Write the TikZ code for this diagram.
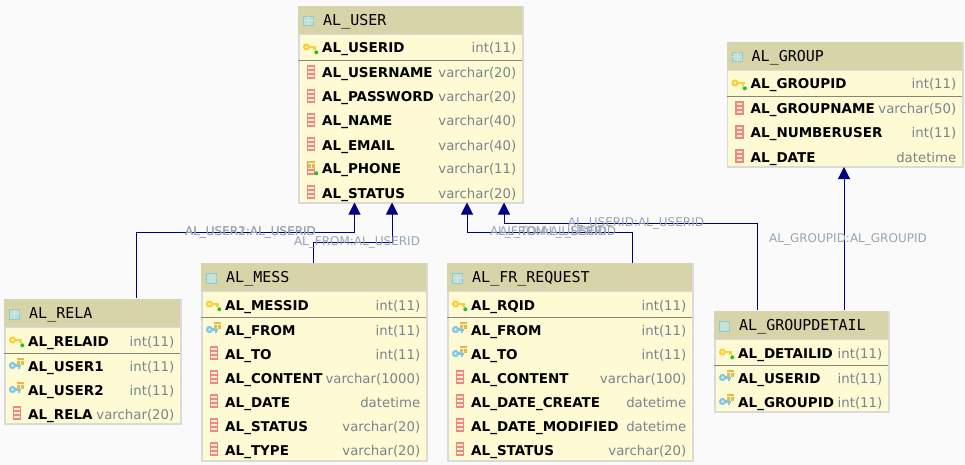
\documentclass[tikz,border=0pt]{standalone}
\usepackage{fontspec}
\setmainfont{DejaVu Sans}
\newfontfamily\titlefont{DejaVu Sans Mono}
\usetikzlibrary{arrows.meta}

\definecolor{pagebg}{HTML}{FAFAFB}
\definecolor{headfill}{HTML}{D7D4A9}
\definecolor{bodyfill}{HTML}{FEFAD3}
\definecolor{boxedge}{HTML}{DADADA}
\definecolor{sepline}{HTML}{85857A}
\definecolor{typegray}{HTML}{76858F}
\definecolor{labelgray}{HTML}{96A5B3}
\definecolor{linkblue}{HTML}{000080}
\definecolor{keyyellow}{HTML}{F8D03C}
\definecolor{keyblue}{HTML}{7CC6F0}
\definecolor{fkyellow}{HTML}{E3BC4A}
\definecolor{colred}{HTML}{EC8A80}
\definecolor{colpink}{HTML}{FDEBD4}
\definecolor{dotgreen}{HTML}{22C322}
\definecolor{tealicon}{HTML}{8CCBD0}

\tikzset{
  tablebox/.style={draw=boxedge,line width=1.6pt,fill=bodyfill,anchor=north west,inner sep=0pt},
  titlebar/.style={fill=headfill,anchor=north west,inner sep=0pt,minimum height=27.5pt},
  tabletitle/.style={anchor=base west,inner sep=0pt,font=\titlefont\fontsize{15}{15}\selectfont},
  colname/.style={anchor=base west,inner sep=0pt,font=\bfseries\fontsize{13.5}{13.5}\selectfont},
  coltype/.style={anchor=base east,inner sep=0pt,text=typegray,font=\fontsize{13.3}{13.3}\selectfont},
  fklabel/.style={inner sep=0pt,text=labelgray,font=\fontsize{12}{12}\selectfont},
  fklink/.style={draw=linkblue,line width=1pt,-{Triangle[width=12pt,length=12pt]}},
}

% icons, drawn around the origin
\newcommand{\iconkey}{%
  \draw[keyyellow,line width=2.2pt] (-3.5,-1) circle (2.4);
  \draw[keyyellow,line width=2.4pt] (-1,-1) -- (6,-1) (4.5,-1) -- (4.5,2);
  \fill[dotgreen] (6.3,4.3) circle (2);
}
\newcommand{\iconfk}{%
  \draw[keyblue,line width=2.2pt] (-3.5,-0.5) circle (2.4);
  \draw[keyblue,line width=2.4pt] (-1,-0.5) -- (4.5,-0.5) (3,-0.5) -- (3,3);
  \fill[fkyellow] (1,-8) rectangle (8,-1);
  \draw[white!80!fkyellow,line width=.5pt] (1,-5.5) -- (8,-5.5) (4.5,-5.5) -- (4.5,-1);
}
\newcommand{\iconcol}{%
  \draw[colred,fill=colpink,line width=1.4pt] (-2.5,-7) rectangle (4.5,5);
  \draw[colred,line width=1.2pt] (-2.5,-3) -- (4.5,-3) (-2.5,1) -- (4.5,1);
}
\newcommand{\iconix}{%
  \iconcol
  \fill[fkyellow] (-2,-8) rectangle (5,-1);
  \draw[white!80!fkyellow,line width=.5pt] (-2,-5.5) -- (5,-5.5) (1.5,-5.5) -- (1.5,-1);
  \fill[dotgreen] (6.3,4.3) circle (2);
}

% id, x, y, width, height, title, rows
\newcommand{\ertable}[7]{%
  \begin{scope}[shift={(#2,#3)}]
    \node[tablebox,minimum width=#4,minimum height=#5] (#1) at (0,0) {};
    \node[titlebar,minimum width=#4] (#1head) at (0,0) {};
    \draw[boxedge,line width=.8pt] (0,28) -- (#4,28);
    \draw[tealicon,fill=tealicon!60,line width=1pt] (5.5,10.5) rectangle (15.5,20);
    \draw[headfill!70!white,line width=.9pt] (5.5,14.5) -- (15.5,14.5) (10.5,10.5) -- (10.5,20);
    \node[tabletitle] (#1title) at (25,19.5) {#6};
    \draw[sepline,line width=.9pt] (0,54) -- (#4,54);
    \foreach \ic/\nm/\ty [count=\i] in {#7} {
      \pgfmathsetmacro\ry{\i==1 ? 42 : 43+24*(\i-1)}
      \begin{scope}[shift={(12,\ry)}]
        \csname icon\ic\endcsname
      \end{scope}
      \node[colname] (#1name\i) at (24,\ry+5) {\nm};
      \node[coltype] (#1type\i) at (#4-5.5,\ry+5) {\ty};
    }
  \end{scope}
}

\begin{document}
\begin{tikzpicture}[x=1pt,y=-1pt]
  \fill[pagebg] (0,0) rectangle (965,465);
  \useasboundingbox (0,0) rectangle (965,465);

  \ertable{user}{298}{6}{224}{196}{AL\_USER}{
    key/AL\_USERID/int(11), col/AL\_USERNAME/varchar(20), col/AL\_PASSWORD/varchar(20),
    col/AL\_NAME/varchar(40), col/AL\_EMAIL/varchar(40), ix/AL\_PHONE/varchar(11),
    col/AL\_STATUS/varchar(20)}
  \ertable{group}{726.5}{42}{235.5}{124}{AL\_GROUP}{
    key/AL\_GROUPID/int(11), col/AL\_GROUPNAME/varchar(50), col/AL\_NUMBERUSER/int(11),
    col/AL\_DATE/datetime}
  \ertable{mess}{201}{263}{225}{197}{AL\_MESS}{
    key/AL\_MESSID/int(11), fk/AL\_FROM/int(11), col/AL\_TO/int(11),
    col/AL\_CONTENT/varchar(1000), col/AL\_DATE/datetime, col/AL\_STATUS/varchar(20),
    col/AL\_TYPE/varchar(20)}
  \ertable{request}{447}{263}{245}{197}{AL\_FR\_REQUEST}{
    key/AL\_RQID/int(11), fk/AL\_FROM/int(11), fk/AL\_TO/int(11),
    col/AL\_CONTENT/varchar(100), col/AL\_DATE\_CREATE/datetime,
    col/AL\_DATE\_MODIFIED/datetime, col/AL\_STATUS/varchar(20)}
  \ertable{rela}{4}{299}{176}{124}{AL\_RELA}{
    key/AL\_RELAID/int(11), fk/AL\_USER1/int(11), fk/AL\_USER2/int(11),
    col/AL\_RELA/varchar(20)}
  \ertable{detail}{714}{311}{174}{100}{AL\_GROUPDETAIL}{
    key/AL\_DETAILID/int(11), fk/AL\_USERID/int(11), fk/AL\_GROUPID/int(11)}

  % ports on the table edges
  \coordinate (relaport) at (136,298);
  \coordinate (messport) at (313,263);
  \coordinate (requestport) at (632,263);
  \coordinate (detailportA) at (757,310);
  \coordinate (detailportB) at (844,310);
  \coordinate (userportA) at (354.5,202.5);
  \coordinate (userportB) at (392,202.5);
  \coordinate (userportC) at (467,202.5);
  \coordinate (userportD) at (504,202.5);
  \coordinate (groupport) at (844,167);

  \draw[fklink] (relaport) -- (relaport |- 0,232) -| (userportA);
  \draw[fklink] (messport) -- (messport |- 0,242) -| (userportB);
  \draw[fklink] (requestport) -- (requestport |- 0,232) -| (userportC);
  \draw[fklink] (detailportA) -- (detailportA |- 0,223) -| (userportD);
  \draw[fklink] (detailportB) -- (groupport);

  \node[fklabel] (relalabelA) at (250.5,232) {AL\_USER1:AL\_USERID};
  \node[fklabel] (relalabelB) at (250.5,232) {AL\_USER2:AL\_USERID};
  \node[fklabel] (messlabel) at (357,242) {AL\_FROM:AL\_USERID};
  \node[fklabel] (requestlabelA) at (553,232) {AL\_FROM:AL\_USERID};
  \node[fklabel] (requestlabelB) at (553,232) {AL\_TO:AL\_USERID};
  \node[fklabel] (detaillabelA) at (636,223) {AL\_USERID:AL\_USERID};
  \node[fklabel] (detaillabelB) at (848,239) {AL\_GROUPID:AL\_GROUPID};
\end{tikzpicture}
\end{document}
